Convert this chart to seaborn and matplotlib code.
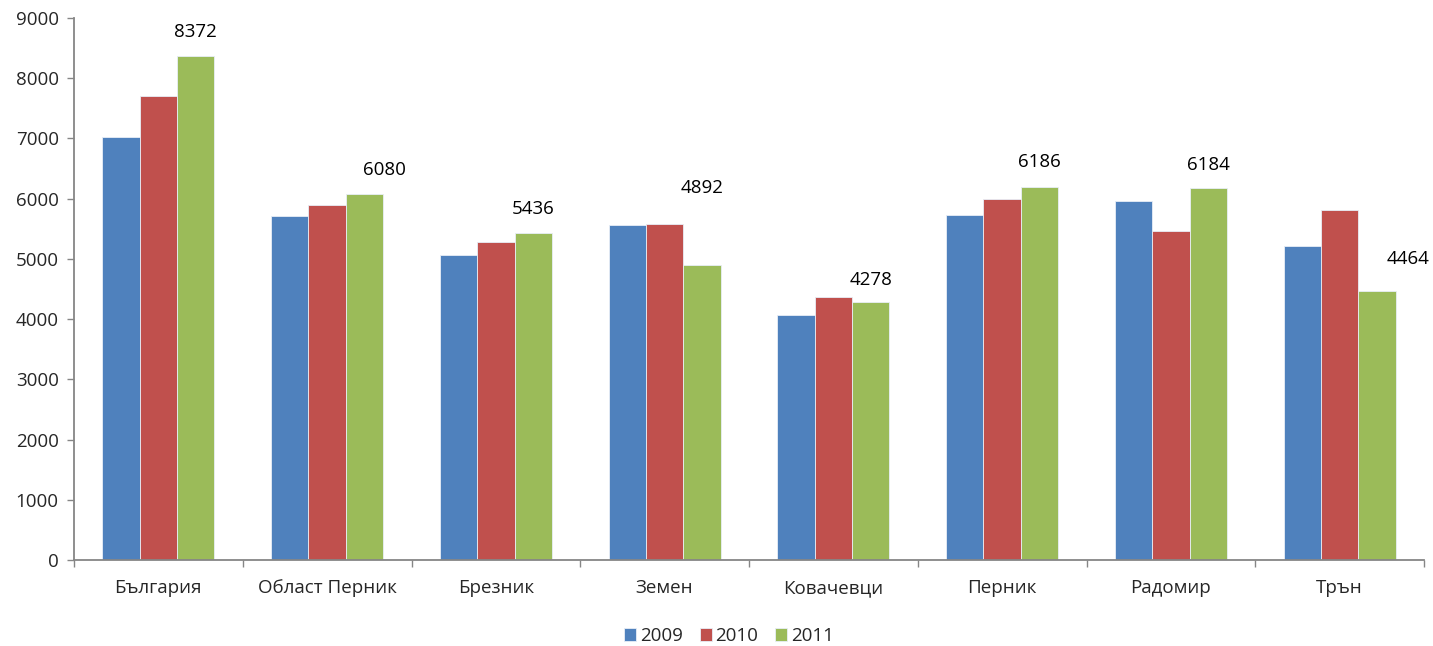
import pandas as pd
import seaborn as sns
import matplotlib.pyplot as plt
from matplotlib.ticker import MultipleLocator, FixedLocator

# данни
places = ['България', 'Област Перник', 'Брезник', 'Земен', 'Ковачевци', 'Перник', 'Радомир', 'Трън']
years = ['2009', '2010', '2011']
v2009 = [7030, 5720, 5060, 5570, 4060, 5730, 5960, 5210]
v2010 = [7700, 5900, 5275, 5578, 4372, 6000, 5460, 5805]
v2011 = [8372, 6080, 5436, 4892, 4278, 6186, 6184, 4464]

colors = ['#4F81BD', '#C0504D', '#9BBB59']

df = pd.DataFrame({'place': places * 3,
                   'year': [y for y in years for _ in places],
                   'value': v2009 + v2010 + v2011})

sns.set_style('white')
plt.rcParams['font.family'] = ['Open Sans', 'DejaVu Sans']

fig = plt.figure(figsize=(14.33, 6.46), dpi=100)
ax = fig.add_axes([74 / 1433, 86 / 646, 1350 / 1433, 542 / 646])

sns.barplot(data=df, x='place', y='value', hue='year', palette=colors,
            width=0.665, saturation=1, edgecolor='#e8eef7', linewidth=0.6, ax=ax)

# етикети над 2011 (отместване в точки)
dx = [0, 14, 0, 0, 0, 0, 0, 22]
dy = [17, 17, 17, 56, 16, 18, 16, 23]
for bar, val, ox, oy in zip(ax.containers[2], v2011, dx, dy):
    ax.annotate(str(val), (bar.get_x() + bar.get_width() / 2, bar.get_height()),
                xytext=(ox, oy), textcoords='offset points',
                ha='center', va='center', fontsize=13.5, color='black')

ax.set_ylim(0, 9000)
ax.set_xlim(-0.5, len(places) - 0.5)
ax.yaxis.set_major_locator(MultipleLocator(1000))
ax.set_xlabel('')
ax.set_ylabel('')

ax.xaxis.set_minor_locator(FixedLocator([i - 0.5 for i in range(len(places) + 1)]))
ax.tick_params(axis='x', which='major', length=0, pad=14, labelsize=13.5)
ax.tick_params(axis='x', which='minor', length=5, width=1, color='#868686', direction='out', bottom=True)
ax.tick_params(axis='y', which='major', length=5, width=1, color='#868686', direction='out', left=True,
               labelsize=13.5, pad=6)

for s in ['top', 'right']:
    ax.spines[s].set_visible(False)
for s in ['left', 'bottom']:
    ax.spines[s].set_color('#868686')
    ax.spines[s].set_linewidth(1.3)

handles, labels = ax.get_legend_handles_labels()
ax.legend(handles, labels, loc='center', bbox_to_anchor=(0.5 - 20 / 1350, -0.14), ncol=3,
          frameon=False, fontsize=13.5, handlelength=0.65, handleheight=0.65,
          handletextpad=0.2, columnspacing=0.9)

fig.savefig('out.png', dpi=100)
